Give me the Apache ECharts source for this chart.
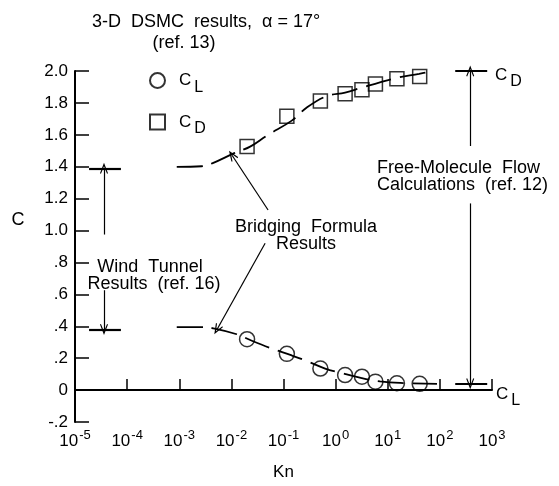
<!DOCTYPE html>
<html><head><meta charset="utf-8">
<script src="https://cdn.jsdelivr.net/npm/echarts@6/dist/echarts.min.js"></script>
<style>html,body{margin:0;padding:0;background:#fff}#c{width:559px;height:486px}</style>
</head><body><div id="c"></div>
<script>
// ---- data ----
const knDSMC = [0.02, 0.116, 0.51, 1.52, 3.2, 5.8, 15, 41];
const cdDSMC = [1.526, 1.716, 1.812, 1.857, 1.883, 1.918, 1.951, 1.965];
const clDSMC = [0.319, 0.227, 0.135, 0.094, 0.084, 0.053, 0.043, 0.039];

const knBridgeD = [8.95e-4, 2.7e-3, 4.4e-3, 0.0113, 0.0229, 0.049, 0.144, 0.28, 0.678, 1.52, 3.18, 5.73, 15, 40, 74];
const cdBridge  = [1.399, 1.403, 1.423, 1.485, 1.526, 1.597, 1.689, 1.771, 1.843, 1.865, 1.896, 1.920, 1.957, 1.982, 2.0];
const knBridgeL = [8.95e-4, 2.5e-3, 4.5e-3, 0.0127, 0.0247, 0.0553, 0.144, 0.26, 0.628, 1.22, 3.18, 7.1, 17.3, 88];
const clBridge  = [0.395, 0.395, 0.387, 0.350, 0.309, 0.264, 0.217, 0.186, 0.135, 0.109, 0.075, 0.055, 0.045, 0.039];

const windTunnelKnSpan = [1.86e-5, 7.6e-5];
const windTunnelLevels = [1.39, 0.38];
const windTunnelArrowKn = 3.6e-5;
const windTunnelArrowFrom = [0.975, 0.626];

const freeMolKnSpan = [197, 809];
const freeMolLevels = [2.0, 0.04];
const freeMolArrowKn = 382;
const freeMolArrowFrom = [1.53, 1.17];

const bridgeArrowFrom = [[0.0506, 1.129], [0.0444, 0.92]];
const bridgeArrowTo   = [[0.0103, 1.472], [0.0053, 0.38]];

const xMin = 1e-5, xMax = 1e3;
const yMin = -0.2, yMax = 2.0, yStep = 0.2;

// ---- chart ----
const FONT = 'Liberation Sans, Arial, Helvetica, sans-serif';
const ARROW = 'path://M0,10 L5,0 L10,10 L8.8,10.6 L5,3.4 L1.2,10.6 Z';
const zip = (a, b) => a.map((v, i) => [v, b[i]]);

const marks = [];
windTunnelLevels.forEach(c => marks.push([{coord:[windTunnelKnSpan[0], c], symbol:'none', lineStyle:{width:2.2}}, {coord:[windTunnelKnSpan[1], c], symbol:'none'}]));
freeMolLevels.forEach(c => marks.push([{coord:[freeMolKnSpan[0], c], symbol:'none', lineStyle:{width:2.2}}, {coord:[freeMolKnSpan[1], c], symbol:'none'}]));
windTunnelArrowFrom.forEach((c, i) => marks.push([{coord:[windTunnelArrowKn, c], symbol:'none'}, {coord:[windTunnelArrowKn, windTunnelLevels[i]], symbol:ARROW, symbolSize:[8,11]}]));
freeMolArrowFrom.forEach((c, i) => marks.push([{coord:[freeMolArrowKn, c], symbol:'none'}, {coord:[freeMolArrowKn, freeMolLevels[i]], symbol:ARROW, symbolSize:[8,11]}]));
bridgeArrowFrom.forEach((p, i) => marks.push([{coord:p, symbol:'none'}, {coord:bridgeArrowTo[i], symbol:ARROW, symbolSize:[8,11]}]));

const chart = echarts.init(document.getElementById('c'), null, {renderer:'canvas'});
const txt = (x, y, text, align, extra) => ({type:'text', x, y, style:Object.assign({text, fill:'#000', font:'18px ' + FONT, textAlign:align || 'left', textVerticalAlign:'middle'}, extra || {})});
const sub = {a:{fontSize:17, fontFamily:FONT, color:'#000'}, s:{fontSize:16, fontFamily:FONT, color:'#000', padding:[14,0,0,3]}};

chart.setOption({
  animation:false,
  backgroundColor:'#fff',
  textStyle:{fontFamily:FONT, color:'#000'},
  grid:{left:75, right:67, top:71, bottom:56, containLabel:false},
  xAxis:{
    type:'log', logBase:10, min:xMin, max:xMax,
    name:'Kn', nameLocation:'middle', nameGap:42,
    nameTextStyle:{fontSize:17, color:'#000', fontFamily:FONT},
    axisLine:{show:true, lineStyle:{color:'#000', width:2}},
    axisTick:{show:true, inside:true, length:11, lineStyle:{color:'#000', width:1.5}},
    splitLine:{show:false}, minorTick:{show:false},
    axisLabel:{
      margin:7, color:'#000', fontSize:17, fontFamily:FONT,
      formatter:v => '10{s|' + Math.round(Math.log10(v)) + '}',
      rich:{s:{fontSize:13, fontFamily:FONT, color:'#000', padding:[0,0,11,1]}}
    }
  },
  yAxis:{
    type:'value', min:yMin, max:yMax, interval:yStep,
    axisLine:{show:true, lineStyle:{color:'#000', width:2}},
    axisTick:{show:true, inside:true, length:14, lineStyle:{color:'#000', width:1.5}},
    splitLine:{show:false},
    axisLabel:{
      margin:7, color:'#000', fontSize:17, fontFamily:FONT,
      formatter:v => { const r = Math.round(v*10)/10; if (r === 0) return '0'; const s = r.toFixed(1); return Math.abs(r) < 1 ? s.replace('0.', '.') : s; }
    }
  },
  legend:{
    orient:'vertical', left:144, top:67, itemWidth:15, itemHeight:15, itemGap:18,
    data:['CL','CD'],
    formatter:n => n === 'CL' ? '{a|C}{s|L}' : '{a|C}{s|D}',
    textStyle:{padding:[0,0,0,9], rich:sub},
    selectedMode:false
  },
  series:[
    {name:'bridgeD', type:'line', data:zip(knBridgeD, cdBridge), smooth:0.4, symbol:'none', silent:true,
     lineStyle:{color:'#000', width:1.8, type:[26,9]}, z:2},
    {name:'bridgeL', type:'line', data:zip(knBridgeL, clBridge), smooth:0.4, symbol:'none', silent:true,
     lineStyle:{color:'#000', width:1.8, type:[26,9]}, z:2,
     markLine:{silent:true, symbol:['none','none'], label:{show:false}, emphasis:{disabled:true},
       lineStyle:{color:'#000', width:1.2, type:'solid'}, data:marks}},
    {name:'CL', type:'scatter', data:zip(knDSMC, clDSMC), symbol:'circle', symbolSize:15, silent:true,
     itemStyle:{color:'rgba(0,0,0,0)', borderColor:'#000', borderWidth:1.5}, z:3},
    {name:'CD', type:'scatter', data:zip(knDSMC, cdDSMC), symbol:'rect', symbolSize:14, silent:true,
     itemStyle:{color:'rgba(0,0,0,0)', borderColor:'#000', borderWidth:1.5}, z:3}
  ],
  graphic:[
    txt(18, 220, 'C', 'center'),
    txt(92, 22, '3-D  DSMC  results,  \u03b1 = 17\u00b0'),
    txt(184, 43, '(ref. 13)', 'center'),
    txt(150, 267, 'Wind  Tunnel', 'center'),
    txt(154, 284, 'Results  (ref. 16)', 'center'),
    txt(306, 227, 'Bridging  Formula', 'center'),
    txt(306, 244, 'Results', 'center'),
    txt(377, 168, 'Free-Molecule  Flow'),
    txt(377, 185, 'Calculations  (ref. 12)'),
    txt(495, 75, '{a|C}{s|D}', 'left', {rich:sub}),
    txt(496, 394, '{a|C}{s|L}', 'left', {rich:sub})
  ]
});
</script></body></html>
